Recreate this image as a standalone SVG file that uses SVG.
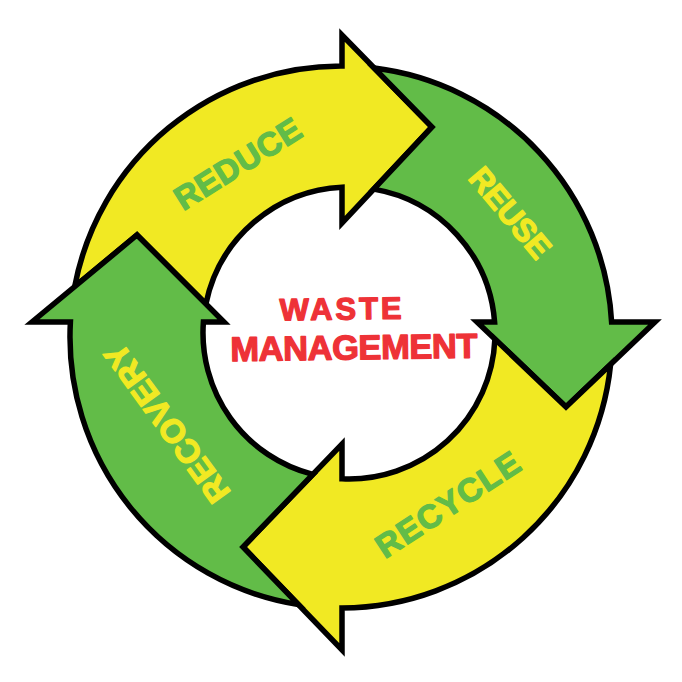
<svg xmlns="http://www.w3.org/2000/svg" width="682" height="682" viewBox="0 0 682 682">
<style>
.arrow{stroke:#000;stroke-width:5.5;stroke-linejoin:miter;stroke-miterlimit:10}
.y{fill:#F1E923}
.g{fill:#62BC48}
.lbl{font-family:"Liberation Sans",Arial,sans-serif;font-weight:bold;text-anchor:middle;stroke-width:1.3;stroke-linejoin:round}
.ty{fill:#F1E923;stroke:#F1E923}
.tg{fill:#62BC48;stroke:#62BC48}
.tr{fill:#EE3237;stroke:#EE3237}
</style>
<rect width="682" height="682" fill="#fff"/>
<g id="reduce">
<path class="arrow y" d="M 74.7 286.6 A 271 271 0 0 1 342 66 L 342 35 L 432 127 L 342 223 L 342 187.2 A 146 146 0 0 0 205.9 303.9 L 137 235 Z"/>
<text class="lbl tg" font-size="33" textLength="143" lengthAdjust="spacing" transform="translate(237.5 163.3) rotate(-32)" x="0" y="12">REDUCE</text>
</g>
<g id="reuse">
<path class="arrow g" d="M 374.3 68.1 A 271 271 0 0 1 611.6 322 L 655 322 L 566 407 L 477 322 L 494.6 322 A 146 146 0 0 0 373.8 189.1 L 432 127 Z"/>
<text class="lbl ty" font-size="32" textLength="108" lengthAdjust="spacing" transform="translate(510.5 212.5) rotate(50)" x="0" y="11.5">REUSE</text>
</g>
<g id="recycle">
<path class="arrow y" d="M 610.6 364.4 A 271 271 0 0 1 342 608 L 342 650 L 243 547 L 342 444 L 342 478.8 A 146 146 0 0 0 494.9 339.1 L 566 407 Z"/>
<text class="lbl tg" font-size="33" textLength="165" lengthAdjust="spacing" transform="translate(447.5 504) rotate(-33.2)" x="0" y="12">RECYCLE</text>
</g>
<g id="recovery">
<path class="arrow g" d="M 298.4 604.6 A 271 271 0 0 1 70.4 322 L 32 322 L 137 235 L 224 322 L 203.4 322 A 146 146 0 0 0 312.8 474.4 L 243 547 Z"/>
<text class="lbl ty" font-size="33" textLength="188" lengthAdjust="spacing" transform="translate(166.5 423.5) rotate(-126.1)" x="0" y="12">RECOVERY</text>
</g>
<g id="center">
<g transform="rotate(-0.8 350 340)">
<text class="lbl tr" font-size="31" textLength="122" lengthAdjust="spacing" x="341" y="319.5">WASTE</text>
<text class="lbl tr" font-size="34.5" textLength="247" lengthAdjust="spacing" x="353.8" y="359.5">MANAGEMENT</text>
</g>
</g>
</svg>
